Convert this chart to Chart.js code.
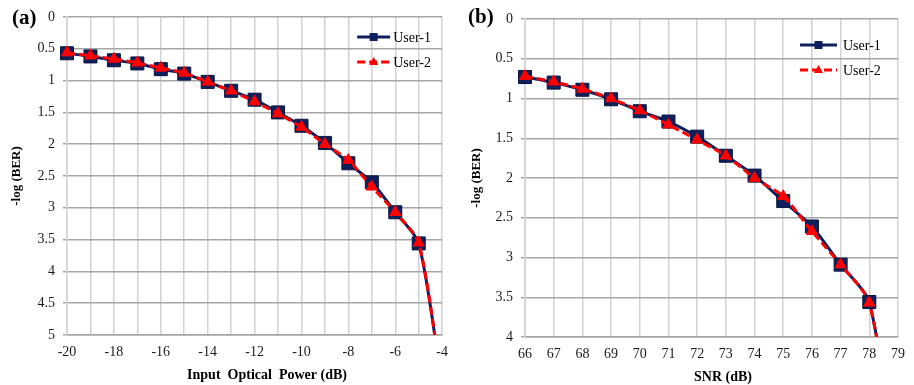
<!DOCTYPE html>
<html>
<head>
<meta charset="utf-8">
<script src="https://cdn.jsdelivr.net/npm/chart.js@4.4.1/dist/chart.umd.min.js"></script>
<style>
  html, body { margin: 0; padding: 0; background: #fff; }
  #wrap { position: relative; width: 914px; height: 385px; }
  .box { position: absolute; top: 0; width: 457px; height: 385px; }
  #boxA { left: 0; }
  #boxB { left: 457px; }
</style>
</head>
<body>
<div id="wrap">
  <div class="box" id="boxA"><canvas id="chartA"></canvas></div>
  <div class="box" id="boxB"><canvas id="chartB"></canvas></div>
</div>
<script>
/* =========================
   DADOS
========================= */

// (a) Input optical power (dB) vs -log(BER)
const powerA = [-20, -19, -18, -17, -16, -15, -14, -13, -12, -11, -10, -9, -8, -7, -6, -5, -4];
const user1A = [0.57, 0.62, 0.68, 0.73, 0.82, 0.89, 1.02, 1.16, 1.30, 1.50, 1.71, 1.98, 2.30, 2.60, 3.07, 3.56, 5.8];
const user2A = [0.56, 0.61, 0.66, 0.72, 0.80, 0.88, 1.02, 1.16, 1.33, 1.52, 1.73, 2.00, 2.25, 2.67, 3.07, 3.55, 5.8];
const xTicksA = [-20, -18, -16, -14, -12, -10, -8, -6, -4];

// (b) SNR (dB) vs -log(BER)
const snrB = [66, 67, 68, 69, 70, 71, 72, 73, 74, 75, 76, 77, 78, 79];
const user1B = [0.73, 0.80, 0.89, 1.01, 1.16, 1.29, 1.48, 1.72, 1.97, 2.29, 2.61, 3.09, 3.56, 5.8];
const user2B = [0.72, 0.79, 0.88, 1.00, 1.15, 1.33, 1.52, 1.72, 2.00, 2.23, 2.67, 3.09, 3.57, 5.8];

const seriesNames = ["User-1", "User-2"];

/* =========================
   ESTILO
========================= */

const NAVY = "#0d1f5c";
const RED = "#ff0000";
const SERIF = "'Liberation Serif', 'Times New Roman', serif";

/* =========================
   PLUGIN: legenda, titulos
========================= */

const panelDecor = {
  id: "panelDecor",
  afterDraw(chart, args, opts) {
    const { ctx, chartArea } = chart;
    const a = chartArea;
    ctx.save();

    // rotulo do painel
    ctx.fillStyle = "#000";
    ctx.font = "bold 21px " + SERIF;
    ctx.textAlign = "left";
    ctx.textBaseline = "middle";
    ctx.fillText(opts.panel, opts.panelX, opts.panelY);

    // titulo eixo x
    ctx.font = "bold 14px " + SERIF;
    ctx.textAlign = "center";
    ctx.fillText(opts.xTitle, opts.xTitleX, opts.xTitleY);

    // titulo eixo y
    ctx.save();
    ctx.translate(opts.yTitleX, (a.top + a.bottom) / 2);
    ctx.rotate(-Math.PI / 2);
    ctx.font = "bold 13px " + SERIF;
    ctx.fillText("-log (BER)", 0, 0);
    ctx.restore();

    // legenda dentro do grafico
    const x0 = a.right - opts.legLeft;
    const x1 = a.right - opts.legRight;
    const xt = a.right - opts.legText;
    chart.data.datasets.forEach((ds, i) => {
      const y = a.top + opts.legY[i];
      ctx.save();
      ctx.strokeStyle = ds.borderColor;
      ctx.lineWidth = ds.borderWidth;
      ctx.setLineDash(ds.borderDash || []);
      ctx.beginPath();
      ctx.moveTo(x0, y);
      ctx.lineTo(x1, y);
      ctx.stroke();
      ctx.setLineDash([]);
      const cx = (x0 + x1) / 2;
      ctx.fillStyle = ds.pointBackgroundColor;
      ctx.beginPath();
      if (ds.pointStyle === "rect") {
        ctx.rect(cx - 4, y - 4, 8, 8);
      } else {
        ctx.moveTo(cx, y - 5);
        ctx.lineTo(cx + 4.5, y + 3);
        ctx.lineTo(cx - 4.5, y + 3);
        ctx.closePath();
      }
      ctx.fill();
      ctx.restore();

      ctx.fillStyle = "#000";
      ctx.font = "14px " + SERIF;
      ctx.textAlign = "left";
      ctx.textBaseline = "middle";
      ctx.fillText(ds.label, xt, y + 1);
    });

    ctx.restore();
  }
};

/* =========================
   FABRICA DE GRAFICOS
========================= */

function makeDatasets(xs, s1, s2) {
  return [
    {
      label: seriesNames[0],
      data: xs.map((x, i) => ({ x: x, y: s1[i] })),
      borderColor: NAVY,
      borderWidth: 3,
      pointStyle: "rect",
      pointRadius: 9.2,
      pointBackgroundColor: NAVY,
      pointBorderColor: "#081540",
      pointBorderWidth: 1,
      tension: 0.25,
      capBezierPoints: false,
      clip: { left: 12, top: 12, right: 12, bottom: 0 },
      order: 1
    },
    {
      label: seriesNames[1],
      data: xs.map((x, i) => ({ x: x, y: s2[i] })),
      borderColor: RED,
      borderWidth: 3,
      borderDash: [8, 4],
      pointStyle: "triangle",
      pointRadius: 6.5,
      pointBackgroundColor: RED,
      pointBorderColor: RED,
      pointBorderWidth: 1,
      tension: 0.25,
      capBezierPoints: false,
      clip: { left: 12, top: 12, right: 12, bottom: 0 },
      order: 0
    }
  ];
}

function makeChart(canvasId, cfg) {
  return new Chart(document.getElementById(canvasId), {
    type: "line",
    data: { datasets: makeDatasets(cfg.xs, cfg.s1, cfg.s2) },
    plugins: [panelDecor],
    options: {
      responsive: true,
      maintainAspectRatio: false,
      animation: false,
      layout: { padding: cfg.padding },
      plugins: {
        legend: { display: false },
        tooltip: { enabled: false },
        panelDecor: cfg.decor
      },
      scales: {
        x: {
          type: "linear",
          min: cfg.xMin,
          max: cfg.xMax,
          afterFit: s => { s.height = cfg.xAxisH; },
          grid: { color: "#d2d2d2", lineWidth: 1.5, drawTicks: false },
          border: { color: "#a6a6a6", width: 1.5 },
          ticks: {
            stepSize: 1,
            autoSkip: false,
            maxRotation: 0,
            padding: 9,
            color: "#1a1a1a",
            font: { family: SERIF, size: 14 },
            callback: v => (cfg.xTicks.includes(v) ? String(v) : "")
          }
        },
        y: {
          min: 0,
          max: cfg.yMax,
          reverse: true,
          afterFit: s => { s.width = cfg.yAxisW; },
          grid: { color: "#a6a6a6", lineWidth: 1.5, tickLength: 4 },
          border: { color: "#d2d2d2", width: 1.5 },
          ticks: {
            stepSize: 0.5,
            padding: 8,
            color: "#1a1a1a",
            font: { family: SERIF, size: 14 },
            callback: v => String(v)
          }
        }
      }
    }
  });
}

/* =========================
   RENDER
========================= */

makeChart("chartA", {
  xs: powerA, s1: user1A, s2: user2A,
  xMin: -20, xMax: -4, yMax: 5, xTicks: xTicksA,
  padding: { top: 17, right: 10, left: 0, bottom: 0 },
  yAxisW: 67, xAxisH: 50,
  decor: {
    panel: "(a)", panelX: 12, panelY: 19,
    xTitle: "Input  Optical  Power (dB)", xTitleX: 267, xTitleY: 375,
    yTitleX: 17,
    legLeft: 85, legRight: 52, legText: 49, legY: [20, 45]
  }
});

makeChart("chartB", {
  xs: snrB, s1: user1B, s2: user2B,
  xMin: 66, xMax: 79, yMax: 4, xTicks: snrB,
  padding: { top: 19, right: 8, left: 0, bottom: 0 },
  yAxisW: 68, xAxisH: 48,
  decor: {
    panel: "(b)", panelX: 11, panelY: 18,
    xTitle: "SNR (dB)", xTitleX: 266, xTitleY: 377,
    yTitleX: 20,
    legLeft: 98, legRight: 61, legText: 55, legY: [26, 51]
  }
});
</script>
</body>
</html>
